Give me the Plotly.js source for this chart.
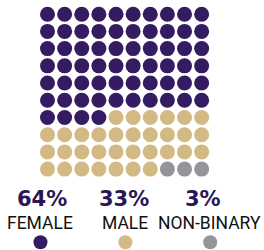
<!DOCTYPE html>
<html><head><meta charset="utf-8">
<script src="https://cdn.plot.ly/plotly-3.0.1.min.js"></script>
<style>html,body{margin:0;padding:0;background:#fff;}#chart{width:264px;height:250px;}</style>
</head><body><div id="chart"></div>
<script>
const categories = ["FEMALE", "MALE", "NON-BINARY"];
const counts = [64, 33, 3];
const colors = ["#341c63", "#d3b983", "#949499"];
const pctColor = "#2b1655";

// layout constants
const COLS = 10;
const legendX = [-0.41, 4.55, 9.5];
const pctX = [-0.35, 4.45, 9.1];
const nameX = [-0.41, 4.55, 9.45];

const traces = [];
let idx = 0;
categories.forEach((cat, c) => {
  const xs = [], ys = [];
  for (let k = 0; k < counts[c]; k++, idx++) {
    xs.push(idx % COLS);
    ys.push(Math.floor(idx / COLS));
  }
  traces.push({type: "scatter", mode: "markers", x: xs, y: ys, hoverinfo: "skip",
    marker: {size: 15, color: colors[c], line: {width: 0}}, showlegend: false});
  traces.push({type: "scatter", mode: "markers", x: [legendX[c]], y: [13.25], hoverinfo: "skip",
    marker: {size: 14, color: colors[c], line: {width: 0}}, showlegend: false});
});

const annotations = [];
categories.forEach((cat, c) => {
  annotations.push({x: pctX[c], y: 10.74, xref: "x", yref: "y", text: counts[c] + "%", showarrow: false,
    xanchor: "center", yanchor: "middle",
    font: {family: "DejaVu Sans", size: 21, color: pctColor, weight: 900}});
  annotations.push({x: nameX[c], y: 12.15, xref: "x", yref: "y", text: cat, showarrow: false,
    xanchor: "center", yanchor: "middle",
    font: {family: "Roboto", size: 17.5, color: "#111"}});
});

const layout = {
  width: 264, height: 250,
  margin: {l: 0, r: 0, t: 0, b: 0, pad: 0},
  paper_bgcolor: "#fff", plot_bgcolor: "#fff",
  xaxis: {range: [-2.773, 12.64], visible: false, fixedrange: true},
  yaxis: {range: [13.70, -0.825], visible: false, fixedrange: true},
  annotations: annotations,
  showlegend: false
};
Plotly.newPlot("chart", traces, layout, {staticPlot: true, displayModeBar: false});
</script></body></html>
